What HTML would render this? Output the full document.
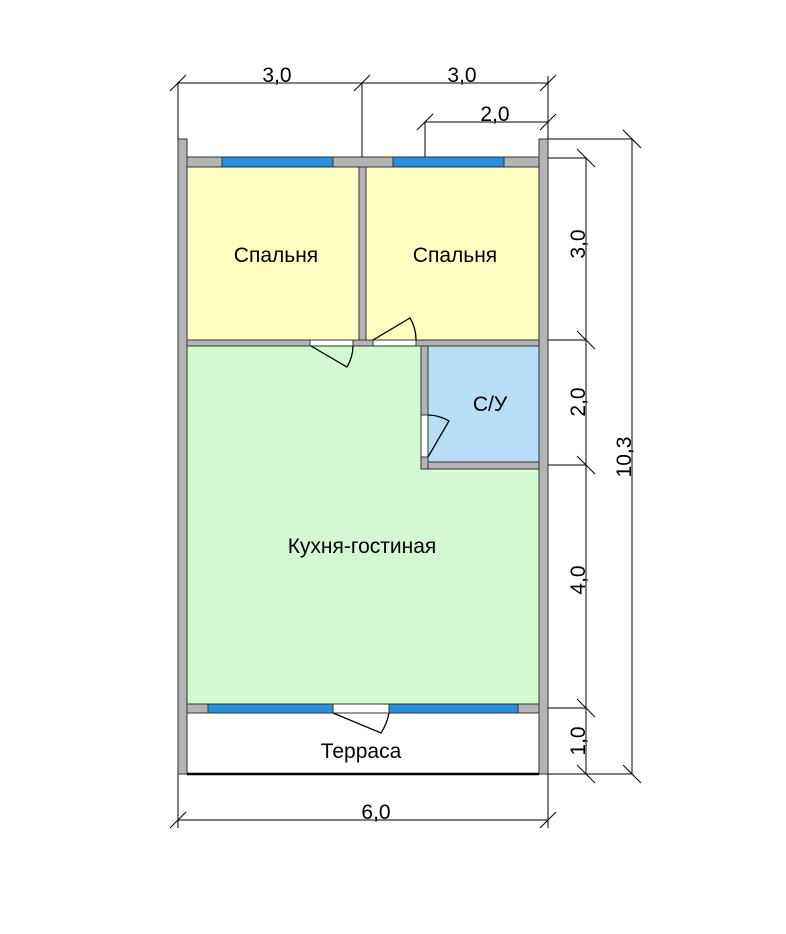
<!DOCTYPE html>
<html><head><meta charset="utf-8"><style>body{margin:0;background:#fff}svg{display:block}</style></head><body>
<svg width="786" height="934" viewBox="0 0 786 934" xmlns="http://www.w3.org/2000/svg" font-family="Liberation Sans, sans-serif">
<rect width="786" height="934" fill="#fff"/>
<rect x="187" y="167" width="172" height="173" fill="#ffffc4"/>
<rect x="366" y="167" width="173" height="173" fill="#ffffc4"/>
<rect x="187" y="346" width="352" height="358" fill="#d3f9d2"/>
<rect x="428" y="346" width="111" height="116" fill="#b8ddf7"/>
<g stroke="#333" stroke-width="1" fill="#b4b4b4">
<rect x="178" y="139" width="9" height="635"/>
<rect x="539" y="139" width="9" height="635"/>
<rect x="187" y="157" width="352" height="10"/>
<rect x="359" y="167" width="7" height="173"/>
<rect x="187" y="340" width="352" height="6"/>
<rect x="421" y="346" width="7" height="123"/>
<rect x="428" y="462" width="111" height="7"/>
<rect x="187" y="704" width="352" height="9"/>
</g>
<g fill="#2a8fde" stroke="#333" stroke-width="1">
<rect x="222" y="157" width="111" height="10"/>
<rect x="393" y="157" width="111" height="10"/>
<rect x="208" y="704" width="125" height="9"/>
<rect x="389" y="704" width="129" height="9"/>
</g>
<g fill="#fff" stroke="#333" stroke-width="1">
<rect x="310" y="340" width="43" height="6"/>
<rect x="373" y="340" width="43" height="6"/>
<rect x="421" y="415" width="7" height="42"/>
<rect x="333" y="704" width="56" height="9"/>
</g>
<g fill="none" stroke="#000" stroke-width="1.3">
<path d="M311 346 L347 367 A42 42 0 0 0 353 346"/>
<path d="M373 340 L410 318 A42 42 0 0 1 416 340"/>
<path d="M428 457 L449 421 A42 42 0 0 0 428 415"/>
<path d="M333 713 L381 733 A56 56 0 0 0 389 713"/>
</g>
<line x1="187" y1="774" x2="539" y2="774" stroke="#000" stroke-width="2.5"/>
<g stroke="#000" stroke-width="1" fill="none">
<line x1="178" y1="83" x2="548" y2="83"/>
<line x1="178" y1="83" x2="178" y2="139"/>
<line x1="362" y1="83" x2="362" y2="157"/>
<line x1="548" y1="76" x2="548" y2="139"/>
<line x1="425" y1="122" x2="548" y2="122"/>
<line x1="425" y1="122" x2="425" y2="157"/>
<line x1="170" y1="91" x2="186" y2="75"/>
<line x1="354" y1="91" x2="370" y2="75"/>
<line x1="540" y1="91" x2="556" y2="75"/>
<line x1="417" y1="130" x2="433" y2="114"/>
<line x1="540" y1="130" x2="556" y2="114"/>
<line x1="548" y1="139" x2="632" y2="139"/>
<line x1="548" y1="158" x2="586" y2="158"/>
<line x1="548" y1="340" x2="586" y2="340"/>
<line x1="548" y1="465" x2="586" y2="465"/>
<line x1="548" y1="708" x2="586" y2="708"/>
<line x1="548" y1="774" x2="632" y2="774"/>
<line x1="586" y1="158" x2="586" y2="774"/>
<line x1="632" y1="139" x2="632" y2="774"/>
<line x1="577" y1="149" x2="595" y2="167"/>
<line x1="577" y1="331" x2="595" y2="349"/>
<line x1="577" y1="456" x2="595" y2="474"/>
<line x1="577" y1="699" x2="595" y2="717"/>
<line x1="577" y1="765" x2="595" y2="783"/>
<line x1="623" y1="130" x2="641" y2="148"/>
<line x1="623" y1="765" x2="641" y2="783"/>
<line x1="178" y1="774" x2="178" y2="828"/>
<line x1="548" y1="774" x2="548" y2="828"/>
<line x1="178" y1="820" x2="548" y2="820"/>
<line x1="170" y1="828" x2="186" y2="812"/>
<line x1="540" y1="828" x2="556" y2="812"/>
</g>
<g font-size="21" fill="#000" text-anchor="middle">
<text x="276" y="262">Спальня</text>
<text x="455" y="262">Спальня</text>
<text x="490" y="411">С/У</text>
<text x="362" y="553">Кухня-гостиная</text>
<text x="361" y="758">Терраса</text>
<text x="277" y="82">3,0</text>
<text x="462" y="82">3,0</text>
<text x="495" y="121">2,0</text>
<text x="376" y="819">6,0</text>
<text transform="translate(585 244) rotate(-90)">3,0</text>
<text transform="translate(585 402) rotate(-90)">2,0</text>
<text transform="translate(585 580) rotate(-90)">4,0</text>
<text transform="translate(585 741) rotate(-90)">1,0</text>
<text transform="translate(631 457) rotate(-90)">10,3</text>
</g>
</svg>
</body></html>
